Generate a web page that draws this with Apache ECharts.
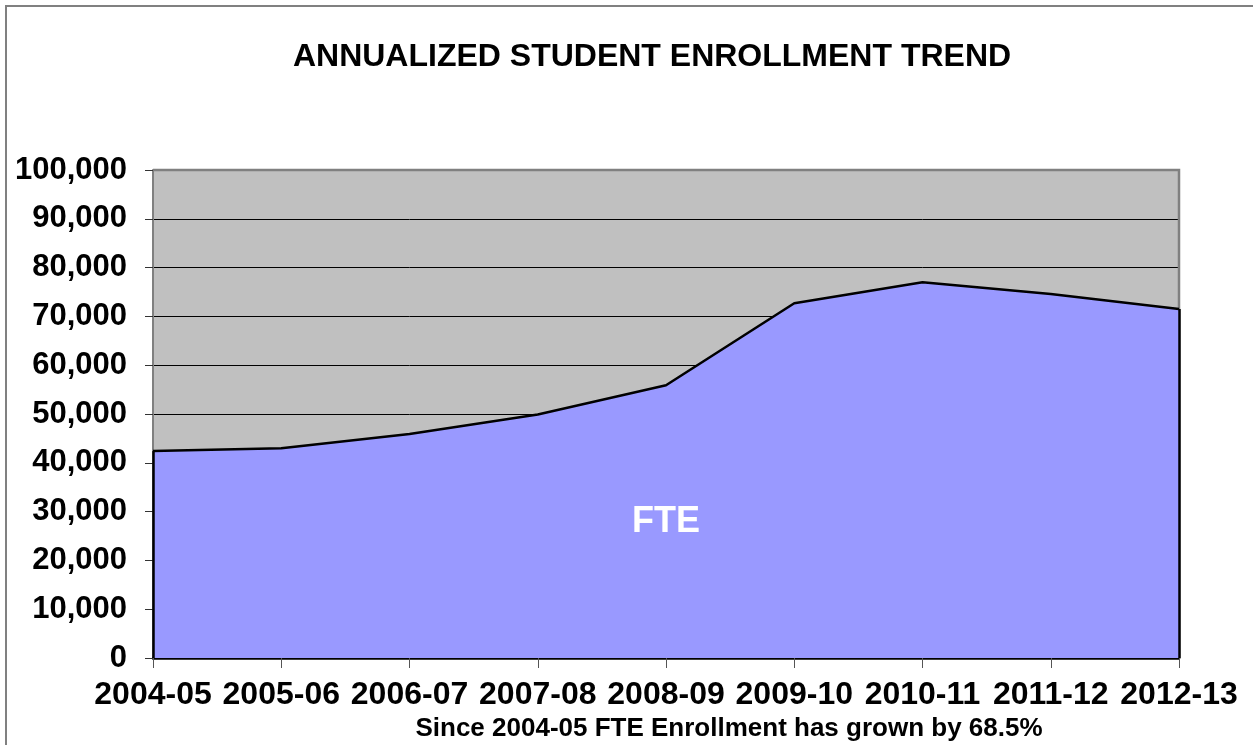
<!DOCTYPE html>
<html>
<head>
<meta charset="utf-8">
<script src="https://cdn.jsdelivr.net/npm/echarts@6/dist/echarts.min.js"></script>
<style>
  html, body { margin: 0; padding: 0; background: #fff; }
  #chart { width: 1253px; height: 745px; }
</style>
</head>
<body>
<div id="chart"></div>
<script>
// Enrollment data
const years = ["2004-05", "2005-06", "2006-07", "2007-08", "2008-09", "2009-10", "2010-11", "2011-12", "2012-13"];
const fte = [42400, 43000, 45900, 49900, 55900, 72700, 77000, 74600, 71500];
const yTicks = [0, 10000, 20000, 30000, 40000, 50000, 60000, 70000, 80000, 90000, 100000];

const font = "Liberation Sans, Arial, sans-serif";
const first = years[0];
const last = years[years.length - 1];

const chart = echarts.init(document.getElementById("chart"));

const option = {
  animation: false,
  backgroundColor: "#ffffff",
  grid: { left: 153, top: 170, width: 1026, height: 488, show: true, backgroundColor: "#c0c0c0", borderWidth: 0 },
  xAxis: {
    type: "category",
    data: years,
    boundaryGap: false,
    axisLine: { lineStyle: { color: "#000", width: 2.5 } },
    axisTick: { show: true, length: 10, interval: 0, lineStyle: { color: "#555", width: 1 } },
    axisLabel: { interval: 0, hideOverlap: false, color: "#000", fontFamily: font, fontWeight: "bold", fontSize: 32, margin: 21 },
    splitLine: { show: false },
  },
  yAxis: {
    type: "value",
    min: yTicks[0],
    max: yTicks[yTicks.length - 1],
    interval: 10000,
    axisLine: { show: true, lineStyle: { color: "#808080", width: 2 } },
    axisTick: { show: true, length: 8, lineStyle: { color: "#333", width: 1 } },
    axisLabel: {
      color: "#000", fontFamily: font, fontWeight: "bold", fontSize: 31, margin: 26,
      formatter: (v) => v.toLocaleString("en-US"),
    },
    splitLine: { show: true, lineStyle: { color: "#000", width: 1 } },
  },
  series: [
    {
      type: "line",
      data: fte,
      symbol: "none",
      lineStyle: { color: "#000", width: 2.5 },
      areaStyle: { color: "#9999ff", opacity: 1 },
      markLine: {
        silent: true,
        symbol: "none",
        label: { show: false },
        lineStyle: { color: "#000", width: 2.5, type: "solid" },
        data: [
          [{ coord: [first, 0] }, { coord: [first, fte[0]] }],
          [{ coord: [last, 0] }, { coord: [last, fte[fte.length - 1]] }],
        ],
      },
    },
  ],
  graphic: [
    // outer chart border
    { type: "rect", shape: { x: 6, y: 6, width: 1300, height: 800 }, style: { fill: null, stroke: "#808080", lineWidth: 2 }, z: 0 },
    // plot area top/right border
    { type: "polyline", shape: { points: [[153, 170], [1179, 170], [1179, 658]] }, style: { fill: null, stroke: "#808080", lineWidth: 2.5 }, z: 1 },
    {
      type: "text", x: 652, y: 57,
      style: { text: "ANNUALIZED STUDENT ENROLLMENT TREND", fill: "#000", font: "bold 32px " + font, textAlign: "center", textVerticalAlign: "middle" },
    },
    {
      type: "text", x: 666, y: 522, z: 10,
      style: { text: "FTE", fill: "#fff", font: "bold 36px " + font, textAlign: "center", textVerticalAlign: "middle" },
    },
    {
      type: "text", x: 729, y: 729,
      style: { text: "Since 2004-05 FTE Enrollment has grown by 68.5%", fill: "#000", font: "bold 26px " + font, textAlign: "center", textVerticalAlign: "middle" },
    },
  ],
};

chart.setOption(option);
</script>
</body>
</html>
